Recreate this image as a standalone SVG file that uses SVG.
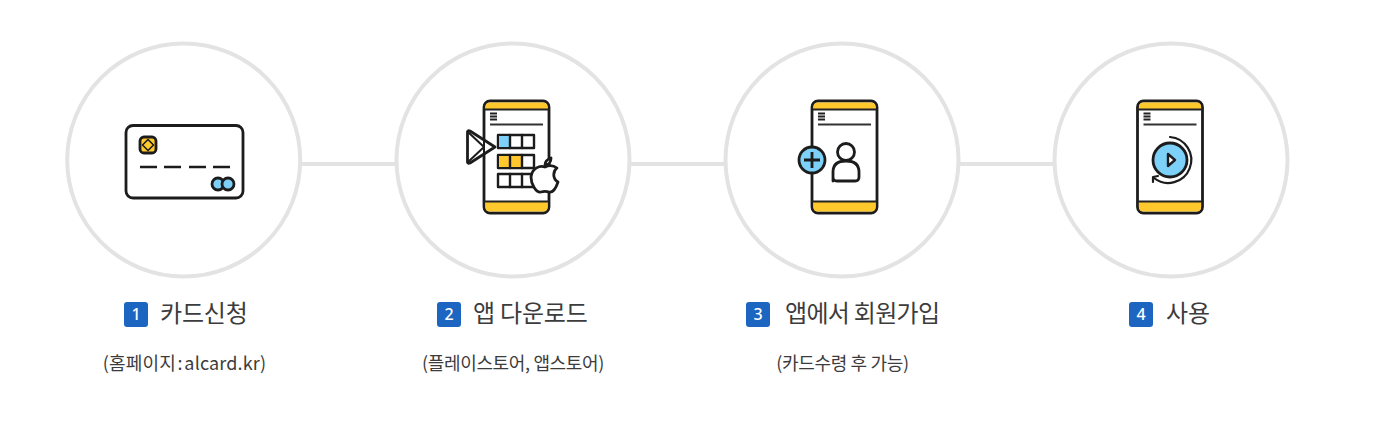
<svg xmlns="http://www.w3.org/2000/svg" width="1382" height="428" viewBox="0 0 1382 428">
<style>
text{font-family:"Noto Sans CJK KR","Noto Sans",sans-serif;fill:#3c3c3c}
.ring{fill:#fff;stroke:#e3e3e3;stroke-width:4}
.c{stroke:#e3e3e3;stroke-width:4;fill:none}
.t{font-size:24px;letter-spacing:-.2px}
.s{font-size:18px;letter-spacing:-.35px;text-anchor:middle}
.b{fill:#1c66c2}
.n{font-family:"Noto Sans",sans-serif;font-size:16px;font-weight:500;fill:#fff;text-anchor:middle}
.k{fill:none;stroke:#1c1c1c;stroke-width:2.800;stroke-linejoin:round;stroke-linecap:round}
.kf{stroke:#1c1c1c;stroke-width:2.800;stroke-linejoin:round}
.y{fill:#ffc92e}.bl{fill:#7dd0f7}.w{fill:#fff}
</style>
<defs>
<g id="phone">
<rect x="1" y="1" width="65" height="112" rx="6" fill="#fff" stroke="#1c1c1c" stroke-width="2.800"/>
<path class="y" d="M2.400 9V7Q2.400 2.400 7 2.400H60Q64.600 2.400 64.600 7V9Z"/>
<path class="y" d="M2.400 102V107Q2.400 111.600 7 111.600H60Q64.600 111.600 64.600 107V102Z"/>
<path d="M1 9.500H66M1 101.500H66" stroke="#222" stroke-width="1.800" fill="none"/>
<path d="M7 13.500H14M7 16.500H14M7 19.500H14" stroke="#222" stroke-width="2"/>
<path d="M7 24.500H60" stroke="#333" stroke-width="2"/>
</g>
</defs>
<g id="connectors">
<path class="c" d="M300 164H396M629 164H725M958 164H1054"/>
</g>
<g id="step1">
<circle class="ring" cx="183.700" cy="160" r="116.500"/>
<rect class="k" x="126" y="125.500" width="117" height="72.500" rx="7"/>
<rect class="y kf" x="140" y="137" width="16" height="16" rx="4"/>
<path class="k" style="stroke-width:1.600" d="M148 139.500L153.500 145L148 150.500L142.500 145Z"/>
<path d="M148 142L151 145L148 148L145 145Z" class="y"/>
<path d="M140 167H157M164 167H181M189 167H206M213 167H230" stroke="#1c1c1c" stroke-width="2.400"/>
<circle class="bl kf" cx="218" cy="184" r="6"/>
<circle class="bl kf" cx="228" cy="184" r="6"/>
<rect class="b" x="124" y="302" width="24" height="25" rx="3"/>
<text class="n" x="136" y="320">1</text>
<text class="t" x="160" y="322">카드신청</text>
<text class="s" x="184.500" y="370" style="letter-spacing:.15px;word-spacing:-2.500px">(홈페이지 : alcard.kr)</text>
</g>
<g id="step2">
<circle class="ring" cx="513" cy="160" r="116.500"/>
<use href="#phone" x="483" y="100"/>
<g class="k" style="stroke-width:2.400">
<rect class="w" x="498" y="135" width="36" height="13"/>
<rect class="w" x="498" y="155" width="36" height="13"/>
<rect class="w" x="498" y="174" width="36" height="13"/>
<rect class="bl" x="499" y="136" width="11" height="11" stroke="none"/>
<rect class="y" x="499" y="156" width="23" height="11" stroke="none"/>
<path d="M510 135V148M522 135V148M510 155V168M522 155V168M510 174V187M522 174V187"/>
</g>
<path class="w k" d="M467.500 133Q467 130 470 131L495 147L470 163Q467 164 467.500 161Z"/>
<path class="k" style="stroke-width:2" d="M468 132L484 147L468 162M484 140L484 154"/>
<path class="w k" d="M545 167C549 165 553 165 557 168C553 171 552 178 558 182C556 188 553 193 549 192C546 191 544 191 541 192C536 193 531 184 531 177C532 168 540 165 545 167Z"/>
<path class="w k" d="M545 165C545 161 548 159 551 158C551 162 549 165 545 165Z"/>
<rect class="b" x="437" y="302" width="24" height="25" rx="3"/>
<text class="n" x="449" y="320">2</text>
<text class="t" x="473" y="322">앱 다운로드</text>
<text class="s" x="513" y="370">(플레이스토어, 앱스토어)</text>
</g>
<g id="step3">
<circle class="ring" cx="842" cy="160" r="116.500"/>
<use href="#phone" x="811" y="100"/>
<circle class="bl kf" cx="812" cy="160" r="13"/>
<path d="M804 160H820M812 152V168" stroke="#1c1c1c" stroke-width="2.800"/>
<circle class="w k" cx="846" cy="152" r="8.500"/>
<path class="w k" d="M833 181V172Q833 161 846 161Q859 161 859 172V177Q859 181 855 181H837Q833 181 833 177Z"/>
<rect class="b" x="746" y="302" width="24" height="25" rx="3"/>
<text class="n" x="758" y="320">3</text>
<text class="t" x="785" y="322" style="letter-spacing:-.7px">앱에서 회원가입</text>
<text class="s" x="842.500" y="370">(카드수령 후 가능)</text>
</g>
<g id="step4">
<circle class="ring" cx="1171" cy="160" r="116.500"/>
<use href="#phone" x="1136.500" y="100"/>
<circle class="bl kf" cx="1170" cy="160" r="17"/>
<path class="w k" d="M1168 154L1175 160L1168 166Z" style="stroke-width:2.400"/>
<path class="k" style="stroke-width:2.200" d="M1170 137A23 23 0 1 1 1154 178"/>
<path class="k" style="stroke-width:2.200" d="M1153 177L1153 182M1153 177L1158 176"/>
<rect class="b" x="1129" y="302" width="24" height="25" rx="3"/>
<text class="n" x="1141" y="320">4</text>
<text class="t" x="1166" y="322">사용</text>
</g>
</svg>
